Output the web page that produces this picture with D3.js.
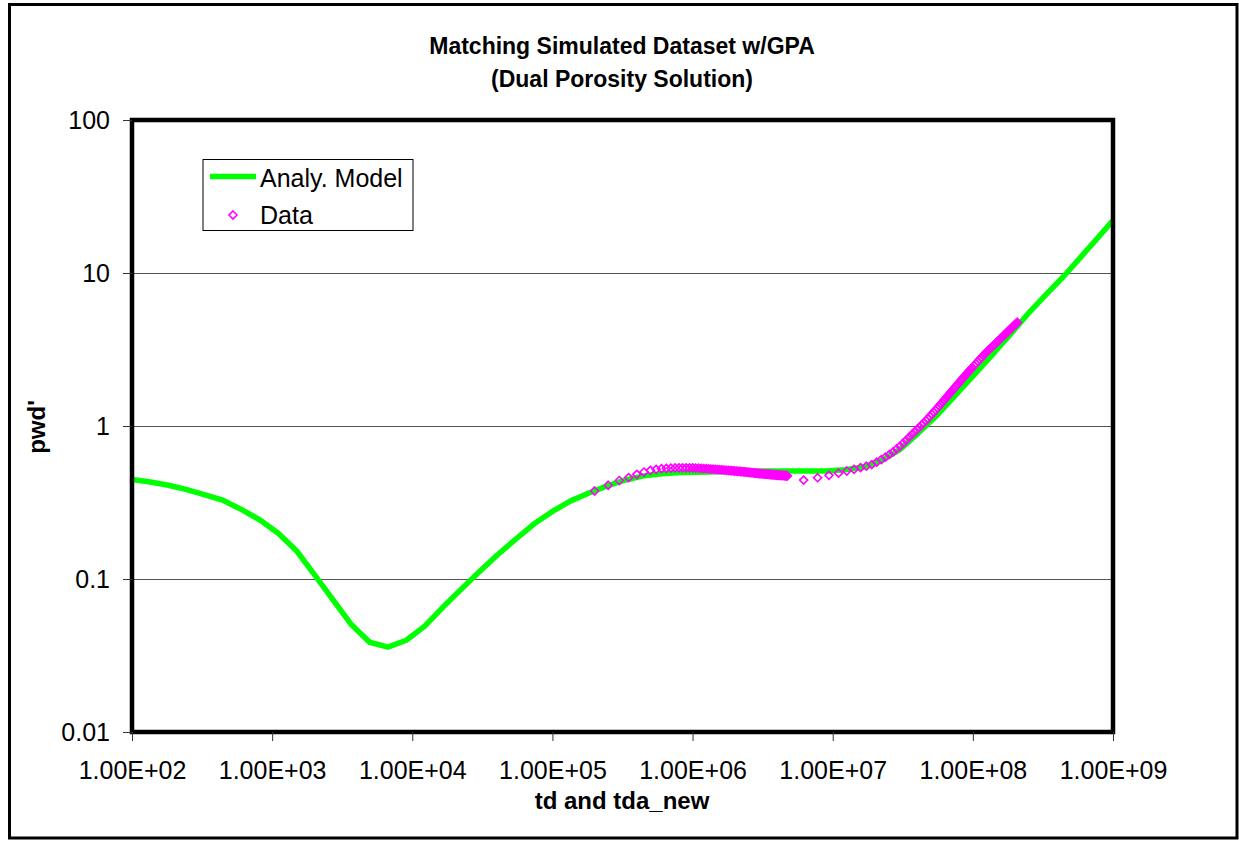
<!DOCTYPE html>
<html>
<head>
<meta charset="utf-8">
<script src="https://cdn.jsdelivr.net/npm/d3@7"></script>
<style>
  body { margin: 0; background: #fff; }
  svg { display: block; }
  text { font-family: Arial, "Liberation Sans", Helvetica, sans-serif; fill: #000; }
</style>
</head>
<body>
<svg id="chart" width="1239" height="841"></svg>
<script>
// ---- Axis ticks ----
const xTicks = [1e2, 1e3, 1e4, 1e5, 1e6, 1e7, 1e8, 1e9];
const xTickLabels = ["1.00E+02", "1.00E+03", "1.00E+04", "1.00E+05", "1.00E+06", "1.00E+07", "1.00E+08", "1.00E+09"];
const yTicks = [0.01, 0.1, 1, 10, 100];
const yTickLabels = ["0.01", "0.1", "1", "10", "100"];
const yGrid = [0.1, 1, 10];

// ---- Analytical dual-porosity model: time and derivative ----
const modelTime = [100, 135, 182, 246, 332, 449, 606, 819, 1105, 1492, 2015, 2720, 3674, 4962, 6701, 9047,
  12218, 16498, 22275, 30083, 40622, 54839, 74060, 1.0e5, 1.35e5, 1.823e5, 2.461e5, 3.323e5, 4.488e5, 6.06e5,
  8.185e5, 1.105e6, 1.492e6, 2.015e6, 2.72e6, 3.674e6, 4.962e6, 6.70e6, 9.05e6, 1.222e7, 1.65e7, 2.228e7,
  3.008e7, 4.062e7, 5.484e7, 7.406e7, 1.0e8, 1.35e8, 1.823e8, 2.461e8, 3.323e8, 4.488e8, 6.06e8, 8.185e8, 1.0e9];
const modelPwd = [0.448, 0.430, 0.410, 0.384, 0.355, 0.326, 0.284, 0.243, 0.199, 0.153, 0.106, 0.0731, 0.0504,
  0.0386, 0.0359, 0.0398, 0.049, 0.0653, 0.0855, 0.1116, 0.144, 0.1827, 0.2296, 0.2765, 0.324, 0.365, 0.406,
  0.444, 0.472, 0.488, 0.496, 0.499, 0.502, 0.505, 0.507, 0.508, 0.508, 0.508, 0.508, 0.518, 0.539, 0.593,
  0.701, 0.895, 1.162, 1.568, 2.117, 2.858, 3.904, 5.38, 7.23, 9.59, 13.1, 17.9, 22.1];

// ---- Simulated dataset, first flow period: [td, pwd'] ----
const dataEarly = [
  [2.0e5, 0.376], [2.5e5, 0.410], [3.0e5, 0.440], [3.5e5, 0.460], [4.0e5, 0.483], [4.5e5, 0.500],
  [5.0e5, 0.513], [5.5e5, 0.521], [6.0e5, 0.526], [6.5e5, 0.529], [7.0e5, 0.531], [7.5e5, 0.532],
  [8.0e5, 0.533], [8.5e5, 0.533], [9.0e5, 0.533], [9.5e5, 0.533], [1.0e6, 0.532], [1.05e6, 0.531],
  [1.1e6, 0.530], [1.15e6, 0.529], [1.2e6, 0.527], [1.25e6, 0.526], [1.3e6, 0.525], [1.35e6, 0.523],
  [1.4e6, 0.522], [1.45e6, 0.521], [1.5e6, 0.519], [1.55e6, 0.518], [1.6e6, 0.517], [1.65e6, 0.516],
  [1.7e6, 0.515], [1.75e6, 0.513], [1.8e6, 0.512], [1.85e6, 0.511], [1.9e6, 0.510], [1.95e6, 0.509],
  [2.0e6, 0.508], [2.05e6, 0.507], [2.1e6, 0.506], [2.15e6, 0.505], [2.2e6, 0.504], [2.25e6, 0.503],
  [2.3e6, 0.502], [2.35e6, 0.501], [2.4e6, 0.500], [2.45e6, 0.499], [2.5e6, 0.498], [2.55e6, 0.497],
  [2.6e6, 0.496], [2.65e6, 0.495], [2.7e6, 0.494], [2.75e6, 0.493], [2.8e6, 0.492], [2.85e6, 0.492],
  [2.9e6, 0.491], [2.95e6, 0.490], [3.0e6, 0.489], [3.05e6, 0.489], [3.1e6, 0.488], [3.15e6, 0.487],
  [3.2e6, 0.487], [3.25e6, 0.486], [3.3e6, 0.485], [3.35e6, 0.485], [3.4e6, 0.484], [3.45e6, 0.484],
  [3.5e6, 0.483], [3.55e6, 0.483], [3.6e6, 0.482], [3.65e6, 0.482], [3.7e6, 0.481], [3.75e6, 0.481],
  [3.8e6, 0.480], [3.85e6, 0.480], [3.9e6, 0.479], [3.95e6, 0.479], [4.0e6, 0.478], [4.05e6, 0.478],
  [4.1e6, 0.477], [4.15e6, 0.477], [4.2e6, 0.476], [4.25e6, 0.476], [4.3e6, 0.476], [4.35e6, 0.475],
  [4.4e6, 0.475], [4.45e6, 0.475], [4.5e6, 0.474], [4.55e6, 0.474], [4.6e6, 0.474], [4.65e6, 0.473],
  [4.7e6, 0.473], [4.75e6, 0.473]
];

// ---- Simulated dataset, second flow period: [td, pwd'] ----
const dataLate = [
  [6.2e6, 0.443], [7.8e6, 0.459], [9.4e6, 0.476], [1.10e7, 0.492], [1.26e7, 0.508], [1.42e7, 0.521],
  [1.58e7, 0.534], [1.74e7, 0.546], [1.90e7, 0.560], [2.06e7, 0.580], [2.22e7, 0.602], [2.38e7, 0.627],
  [2.54e7, 0.652], [2.70e7, 0.678], [2.86e7, 0.708], [3.02e7, 0.738], [3.18e7, 0.772], [3.34e7, 0.807],
  [3.50e7, 0.842], [3.66e7, 0.877], [3.82e7, 0.911], [3.98e7, 0.945], [4.14e7, 0.980], [4.30e7, 1.015],
  [4.46e7, 1.049], [4.62e7, 1.084], [4.78e7, 1.118], [4.94e7, 1.156], [5.10e7, 1.195], [5.26e7, 1.233],
  [5.42e7, 1.272], [5.58e7, 1.311], [5.74e7, 1.350], [5.90e7, 1.390], [6.06e7, 1.431], [6.22e7, 1.472],
  [6.38e7, 1.513], [6.54e7, 1.554], [6.70e7, 1.595], [6.86e7, 1.636], [7.02e7, 1.677], [7.18e7, 1.718],
  [7.34e7, 1.759], [7.50e7, 1.800], [7.66e7, 1.841], [7.82e7, 1.882], [7.98e7, 1.923], [8.14e7, 1.964],
  [8.30e7, 2.005], [8.46e7, 2.046], [8.62e7, 2.087], [8.78e7, 2.128], [8.94e7, 2.170], [9.10e7, 2.210],
  [9.26e7, 2.249], [9.42e7, 2.288], [9.58e7, 2.327], [9.74e7, 2.366], [9.90e7, 2.405],
  [1.022e8, 2.483], [1.054e8, 2.562], [1.086e8, 2.640], [1.118e8, 2.718], [1.150e8, 2.796], [1.182e8, 2.874],
  [1.214e8, 2.952], [1.246e8, 3.030], [1.278e8, 3.100], [1.310e8, 3.167], [1.342e8, 3.233], [1.374e8, 3.300],
  [1.406e8, 3.367], [1.438e8, 3.433], [1.470e8, 3.500], [1.502e8, 3.567], [1.534e8, 3.633], [1.566e8, 3.700],
  [1.598e8, 3.767], [1.630e8, 3.833], [1.662e8, 3.900], [1.694e8, 3.967], [1.726e8, 4.033], [1.758e8, 4.100],
  [1.790e8, 4.167], [1.822e8, 4.233], [1.854e8, 4.300], [1.886e8, 4.367], [1.918e8, 4.433], [1.950e8, 4.500],
  [1.982e8, 4.567], [2.014e8, 4.633], [2.046e8, 4.700], [2.078e8, 4.767]
];

const titleLines = ["Matching Simulated Dataset w/GPA", "(Dual Porosity Solution)"];
const xTitle = "td and tda_new";
const yTitle = "pwd'";
const legendItems = ["Analy. Model", "Data"];

// ---- Layout ----
const W = 1239, H = 841;
const plot = { left: 132, top: 120, right: 1113, bottom: 732 };
const GREEN = "#00FF00", MAGENTA = "#FF00FF";

const svg = d3.select("#chart");
const x = d3.scaleLog().domain([1e2, 1e9]).range([plot.left, plot.right]);
const y = d3.scaleLog().domain([0.01, 100]).range([plot.bottom, plot.top]);

svg.append("rect").attr("width", W).attr("height", H).attr("fill", "#fff");

// chart frame
svg.append("rect")
  .attr("x", 9.5).attr("y", 4.5).attr("width", 1227.5).attr("height", 833.5)
  .attr("fill", "none").attr("stroke", "#000").attr("stroke-width", 3);

// title
const title = svg.append("text").attr("text-anchor", "middle")
  .style("font-weight", "bold").style("font-size", "23px");
titleLines.forEach((t, i) => {
  title.append("tspan").attr("x", 622).attr("y", 54 + i * 33).text(t);
});

// horizontal gridlines
svg.append("g").selectAll("line").data(yGrid).join("line")
  .attr("x1", plot.left).attr("x2", plot.right)
  .attr("y1", d => Math.round(y(d)) + 0.5).attr("y2", d => Math.round(y(d)) + 0.5)
  .attr("stroke", "#555").attr("stroke-width", 1);

// clip for series
svg.append("clipPath").attr("id", "plotClip").append("rect")
  .attr("x", plot.left).attr("y", plot.top)
  .attr("width", plot.right - plot.left).attr("height", plot.bottom - plot.top);

const series = svg.append("g").attr("clip-path", "url(#plotClip)");

// model curve
const modelPoints = modelTime.map((t, i) => [t, modelPwd[i]]);
series.append("path").datum(modelPoints)
  .attr("fill", "none").attr("stroke", GREEN).attr("stroke-width", 5.5)
  .attr("stroke-linejoin", "round")
  .attr("d", d3.line().x(d => x(d[0])).y(d => y(d[1])));

// data markers (hollow diamonds)
const diamond = "M0,-4L4,0L0,4L-4,0Z";
series.append("g").selectAll("path").data(dataEarly.concat(dataLate)).join("path")
  .attr("d", diamond)
  .attr("transform", d => `translate(${x(d[0])},${y(d[1])})`)
  .attr("fill", "none").attr("stroke", MAGENTA).attr("stroke-width", 1.6);

// plot border
svg.append("rect")
  .attr("x", plot.left).attr("y", plot.top)
  .attr("width", plot.right - plot.left).attr("height", plot.bottom - plot.top)
  .attr("fill", "none").attr("stroke", "#000").attr("stroke-width", 4.5);

// axes
const xAxis = svg.append("g").attr("transform", `translate(0,${plot.bottom})`)
  .call(d3.axisBottom(x).tickValues(xTicks)
    .tickFormat(d => xTickLabels[xTicks.indexOf(d)])
    .tickSize(9).tickPadding(20));
const yAxis = svg.append("g").attr("transform", `translate(${plot.left},0)`)
  .call(d3.axisLeft(y).tickValues(yTicks)
    .tickFormat(d => yTickLabels[yTicks.indexOf(d)])
    .tickSize(9).tickPadding(13));
[xAxis, yAxis].forEach(g => {
  g.select(".domain").remove();
  g.selectAll(".tick line").attr("stroke", "#333").attr("stroke-width", 1);
  g.selectAll(".tick text").style("font-size", "25px").attr("fill", "#000")
    .style("font-family", "Arial, 'Liberation Sans', sans-serif");
});

// axis titles
svg.append("text").attr("x", 622).attr("y", 809).attr("text-anchor", "middle")
  .style("font-weight", "bold").style("font-size", "24px").text(xTitle);
svg.append("text").attr("transform", "translate(45,427) rotate(-90)").attr("text-anchor", "middle")
  .style("font-weight", "bold").style("font-size", "24px").text(yTitle);

// legend
const legend = svg.append("g");
legend.append("rect").attr("x", 203).attr("y", 159.5).attr("width", 210).attr("height", 71)
  .attr("fill", "#fff").attr("stroke", "#000").attr("stroke-width", 1);
legend.append("line").attr("x1", 210).attr("x2", 256).attr("y1", 176.5).attr("y2", 176.5)
  .attr("stroke", GREEN).attr("stroke-width", 5.5);
legend.append("path").attr("d", diamond).attr("transform", "translate(233,215)")
  .attr("fill", "none").attr("stroke", MAGENTA).attr("stroke-width", 1.6);
legendItems.forEach((t, i) => {
  legend.append("text").attr("x", 260).attr("y", 187 + i * 36.5)
    .style("font-size", "25px").text(t);
});
</script>
</body>
</html>
